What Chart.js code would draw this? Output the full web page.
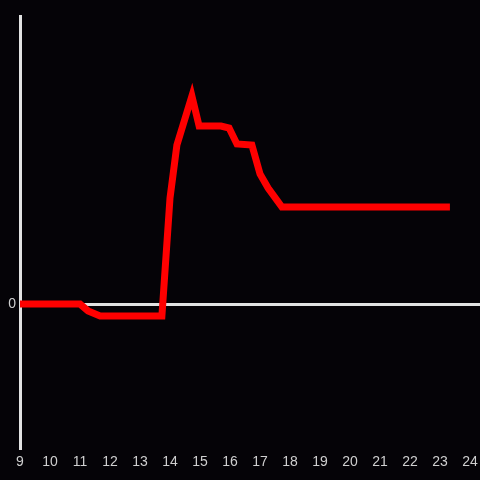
<!DOCTYPE html>
<html lang="en">
<head>
    <meta charset="UTF-8">
    <title>Line</title>
    <style>
        html, body { margin: 0; padding: 0; background: #050307; }
        #wrap { width: 480px; height: 480px; }
    </style>
</head>
<body>
<div id="wrap"><canvas id="chart" width="480" height="480"></canvas></div>
<script src="https://cdn.jsdelivr.net/npm/chart.js@4/dist/chart.umd.min.js"></script>
<script>
  const hours = [9, 11, 11.27, 11.67, 13.73, 14.0, 14.23, 14.73, 14.97, 15.7, 15.97, 16.23, 16.73, 17.0, 17.27, 17.73, 23.33];
  const values = [0, 0, -7, -12, -12, 106, 159, 208, 178, 178, 176, 160, 159, 130, 116, 97, 97];
  const xTicks = [9, 10, 11, 12, 13, 14, 15, 16, 17, 18, 19, 20, 21, 22, 23, 24];
  const yTicks = [0];

  const axisColor = '#e2e2e2';
  const labelColor = '#cfcfcf';

  const points = hours.map((h, i) => ({ x: h, y: values[i] }));

  new Chart(document.getElementById('chart'), {
    type: 'line',
    data: {
      datasets: [{
        data: points,
        borderColor: '#ff0000',
        borderWidth: 7,
        borderCapStyle: 'butt',
        borderJoinStyle: 'miter',
        pointRadius: 0,
        tension: 0,
        fill: false
      }]
    },
    options: {
      responsive: false,
      animation: false,
      layout: { padding: { top: 16, right: 0, left: 0, bottom: 0 } },
      plugins: { legend: { display: false }, tooltip: { enabled: false } },
      scales: {
        x: {
          type: 'linear',
          min: 9,
          max: 24.333,
          afterBuildTicks: s => { s.ticks = xTicks.map(v => ({ value: v })); },
          afterFit: s => {
            s.height = 32;
            s.paddingLeft = 0;
            s.paddingRight = 0;
          },
          grid: { display: false, drawTicks: false },
          border: { display: false },
          ticks: {
            color: labelColor,
            font: { family: 'Liberation Sans, Arial', size: 14 },
            padding: 6,
            maxRotation: 0,
            autoSkip: false
          }
        },
        y: {
          min: -144,
          max: 288,
          afterBuildTicks: s => { s.ticks = yTicks.map(v => ({ value: v })); },
          afterFit: s => {
            s.width = 20;
            s.paddingTop = 0;
            s.paddingBottom = 0;
          },
          grid: {
            drawTicks: false,
            color: axisColor,
            lineWidth: 3
          },
          border: { display: true, color: axisColor, width: 3 },
          ticks: {
            color: labelColor,
            font: { family: 'Liberation Sans, Arial', size: 14 },
            padding: 4
          }
        }
      }
    }
  });
</script>
</body>
</html>
